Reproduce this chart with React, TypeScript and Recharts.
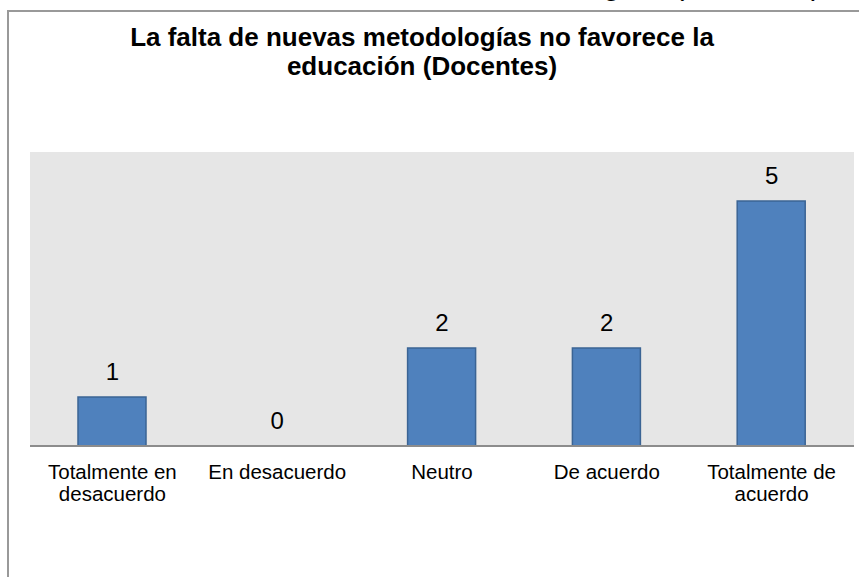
import { ComposedChart, Bar, Line, XAxis, YAxis, CartesianGrid, LabelList } from "recharts";

const categories = ["Totalmente en desacuerdo", "En desacuerdo", "Neutro", "De acuerdo", "Totalmente de acuerdo"];
const counts = [1, 0, 2, 2, 5];
const yDomain = [0, 6];

const title = ["La falta de nuevas metodologías no favorece la", "educación (Docentes)"];
const clippedCaption = "Metodologías (Docentes)";

const data = categories.map((name, i) => ({ name, value: counts[i] }));

const FONT = '"Liberation Sans", Arial, sans-serif';

// greedy wrap, same breaks as the original axis labels
function wrap(text: string, max = 14) {
  const lines: string[] = [];
  let cur = "";
  for (const w of text.split(" ")) {
    const next = cur ? cur + " " + w : w;
    if (next.length > max && cur) {
      lines.push(cur);
      cur = w;
    } else cur = next;
  }
  if (cur) lines.push(cur);
  return lines;
}

// eslint-disable-next-line @typescript-eslint/no-explicit-any
const CategoryTick = (props: any) => {
  const { x, y, payload } = props;
  const lines = wrap(String(payload.value));
  return (
    <text x={x} y={y} textAnchor="middle" fontSize={20.5} fill="#000">
      {lines.map((l, i) => (
        <tspan key={i} x={x} dy={i === 0 ? 33 : 22}>{l}</tspan>
      ))}
    </text>
  );
};

// labels hang off an invisible line so the zero bar still gets its "0"
// eslint-disable-next-line @typescript-eslint/no-explicit-any
const ValueLabel = (props: any) => {
  const { x, y, value } = props;
  return (
    <text x={x} y={Number(y) - 17} textAnchor="middle" fontSize={24} fill="#000">
      {value}
    </text>
  );
};

export default function App() {
  return (
    <div style={{ position: "absolute", left: 0, top: 0, width: 859, height: 577, overflow: "hidden", background: "#fff", fontFamily: FONT }}>
      <span style={{ position: "absolute", right: 38, top: -30, fontSize: 30, lineHeight: "30px", whiteSpace: "nowrap", color: "#000", wordSpacing: 6 }}>
        {clippedCaption}
      </span>
      <div style={{ position: "absolute", left: 7, top: 10, width: 900, height: 700, borderLeft: "2px solid #999", borderTop: "2px solid #999" }} />
      <ComposedChart
        width={859}
        height={577}
        data={data}
        margin={{ top: 152, right: 5, bottom: 71, left: 30 }}
        style={{ position: "absolute", left: 0, top: 0 }}
      >
        <CartesianGrid fill="#e6e6e6" horizontal={false} vertical={false} />
        <YAxis hide domain={yDomain} />
        <XAxis
          dataKey="name"
          height={60}
          tickLine={false}
          tickSize={0}
          tickMargin={0}
          interval={0}
          axisLine={{ stroke: "#8c8c8c", strokeWidth: 2 }}
          tick={<CategoryTick />}
        />
        <Bar dataKey="value" fill="#4f81bd" stroke="#3b6494" strokeWidth={1.5} barSize={68} isAnimationActive={false} />
        <Line dataKey="value" stroke="none" dot={false} activeDot={false} isAnimationActive={false}>
          <LabelList dataKey="value" content={<ValueLabel />} />
        </Line>
      </ComposedChart>
      <div style={{ position: "absolute", left: 0, top: 23, width: 844, textAlign: "center", fontSize: 26, lineHeight: "29px", fontWeight: "bold", color: "#000" }}>
        {title.map((t) => <div key={t}>{t}</div>)}
      </div>
    </div>
  );
}
